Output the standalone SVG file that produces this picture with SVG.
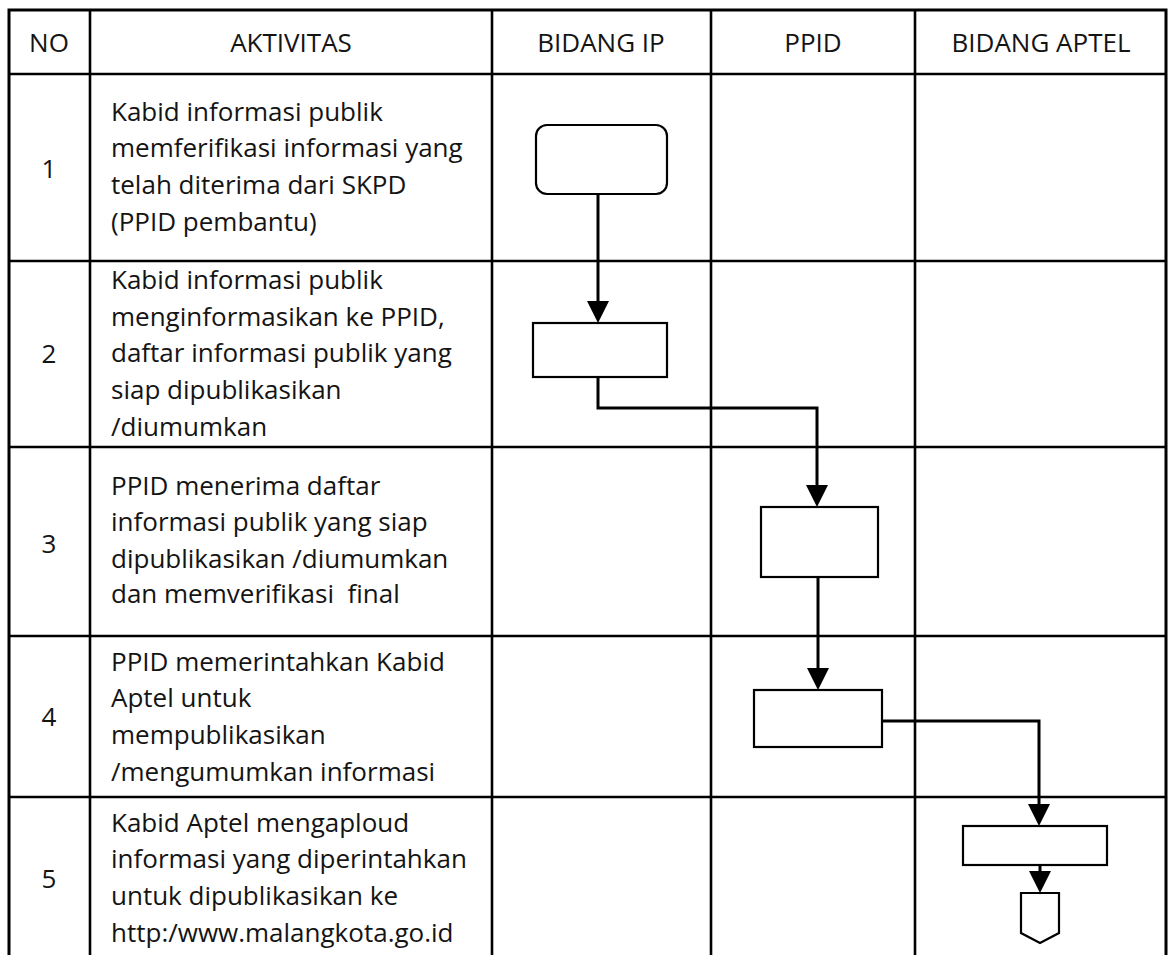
<svg xmlns="http://www.w3.org/2000/svg" width="1168" height="955" viewBox="0 0 1168 955">
<style>
.grid{stroke:#000;stroke-width:2.6;fill:none}
.outer{stroke:#000;stroke-width:3;fill:none}
.t{font-family:"Open Sans","Liberation Sans",sans-serif;font-size:26px;fill:#141414}
.h{font-family:"Open Sans","Liberation Sans",sans-serif;font-size:26px;fill:#141414;text-anchor:middle}
.n{font-family:"Open Sans","Liberation Sans",sans-serif;font-size:26px;fill:#141414;text-anchor:middle}
.box{fill:#fff;stroke:#000;stroke-width:2.2}
.con{fill:none;stroke:#000;stroke-width:3}
</style>
<defs>
<marker id="arr" markerUnits="userSpaceOnUse" markerWidth="22" markerHeight="22" refX="12" refY="11" orient="auto">
<path d="M0,0 L22,11 L0,22 Z" fill="#000"/>
</marker>
</defs>
<rect width="1168" height="955" fill="#fff"/>
<g id="table">
<path class="outer" d="M9,955 V10 H1166 V955"/>
<path class="grid" d="M90,10 V955 M492,10 V955 M711,10 V955 M915,10 V955"/>
<path class="grid" d="M9,74 H1166 M9,261 H1166 M9,447 H1166 M9,636 H1166 M9,797 H1166"/>
</g>
<g id="header">
<text class="h" x="49" y="52">NO</text>
<text class="h" x="291" y="52">AKTIVITAS</text>
<text class="h" x="601" y="52">BIDANG IP</text>
<text class="h" x="813" y="52">PPID</text>
<text class="h" x="1041" y="52">BIDANG APTEL</text>
</g>
<g id="row1">
<text class="n" x="49" y="178">1</text>
<text class="t" x="111" y="120.5">Kabid informasi publik</text>
<text class="t" x="111" y="157">memferifikasi informasi yang</text>
<text class="t" x="111" y="194">telah diterima dari SKPD</text>
<text class="t" x="111" y="230.5">(PPID pembantu)</text>
</g>
<g id="row2">
<text class="n" x="49" y="363">2</text>
<text class="t" x="111" y="289">Kabid informasi publik</text>
<text class="t" x="111" y="325.5">menginformasikan ke PPID,</text>
<text class="t" x="111" y="362">daftar informasi publik yang</text>
<text class="t" x="111" y="399">siap dipublikasikan</text>
<text class="t" x="111" y="436">/diumumkan</text>
</g>
<g id="row3">
<text class="n" x="49" y="553">3</text>
<text class="t" x="111" y="495">PPID menerima daftar</text>
<text class="t" x="111" y="531">informasi publik yang siap</text>
<text class="t" x="111" y="567.5">dipublikasikan /diumumkan</text>
<text class="t" x="111" y="603" xml:space="preserve">dan memverifikasi  final</text>
</g>
<g id="row4">
<text class="n" x="49" y="726">4</text>
<text class="t" x="111" y="671">PPID memerintahkan Kabid</text>
<text class="t" x="111" y="707">Aptel untuk</text>
<text class="t" x="111" y="744">mempublikasikan</text>
<text class="t" x="111" y="781">/mengumumkan informasi</text>
</g>
<g id="row5">
<text class="n" x="49" y="888">5</text>
<text class="t" x="111" y="832">Kabid Aptel mengaploud</text>
<text class="t" x="111" y="868">informasi yang diperintahkan</text>
<text class="t" x="111" y="905">untuk dipublikasikan ke</text>
<text class="t" x="111" y="942">http:/www.malangkota.go.id</text>
</g>
<g id="connectors">
<path class="con" d="M598,194 V313" marker-end="url(#arr)"/>
<path class="con" d="M598,377 V408 H817 V497" marker-end="url(#arr)"/>
<path class="con" d="M818,577 V680" marker-end="url(#arr)"/>
<path class="con" d="M882,721 H1039 V816" marker-end="url(#arr)"/>
<path class="con" d="M1040,865 V883" marker-end="url(#arr)"/>
</g>
<g id="n1"><rect class="box" x="536" y="125" width="131" height="69" rx="11"/></g>
<g id="n2"><rect class="box" x="533" y="323" width="134" height="54"/></g>
<g id="n3"><rect class="box" x="761" y="507" width="117" height="70"/></g>
<g id="n4"><rect class="box" x="754" y="690" width="128" height="57"/></g>
<g id="n5"><rect class="box" x="963" y="826" width="144" height="39"/></g>
<g id="n6"><path class="box" d="M1021,893 H1059 V933 L1040,943 L1021,933 Z"/></g>
</svg>
